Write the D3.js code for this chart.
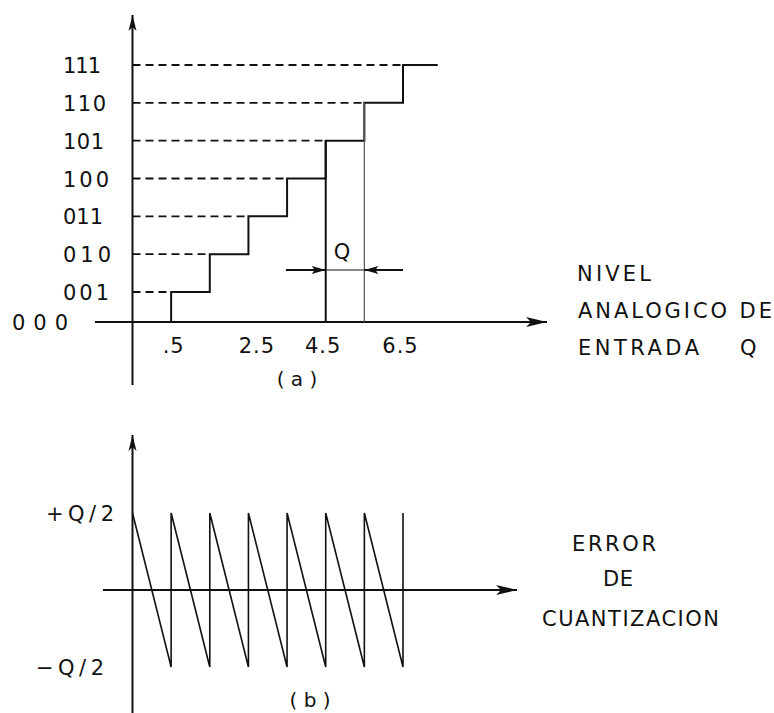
<!DOCTYPE html>
<html>
<head>
<meta charset="utf-8">
<script src="https://cdn.jsdelivr.net/npm/d3@7"></script>
<style>
  html, body { margin: 0; padding: 0; background: #fff; }
  svg { display: block; }
  text { font-family: "DejaVu Sans", sans-serif; fill: #111; }
</style>
</head>
<body>
<script>
// ---------------- data ----------------
const codes = ["000", "001", "010", "011", "100", "101", "110", "111"];
const levels = [0, 1, 2, 3, 4, 5, 6, 7];
// analog input values where the output code steps up to the next level
const thresholds = [0.5, 1.5, 2.5, 3.5, 4.5, 5.5, 6.5];
const inputStart = -0.5;
const inputEnd = 7.4;
const xTickValues = [0.5, 2.5, 4.5, 6.5];
const xTickLabels = [".5", "2.5", "4.5", "6.5"];
// quantization error breakpoints (in units of Q)
const errX = [-0.5, 0.5, 0.5, 1.5, 1.5, 2.5, 2.5, 3.5, 3.5, 4.5, 4.5, 5.5, 5.5, 6.5, 6.5];
const errY = [0.5, -0.5, 0.5, -0.5, 0.5, -0.5, 0.5, -0.5, 0.5, -0.5, 0.5, -0.5, 0.5, -0.5, 0.5];
const errTickValues = [0.5, -0.5];
const errTickLabels = ["+Q/2", "\u2212Q/2"];
const qStart = 4.5, qEnd = 5.5;

// ---------------- setup ----------------
const W = 774, H = 713;
const FS = 21;
const svg = d3.select("body").append("svg").attr("width", W).attr("height", H);

const x = d3.scaleLinear().domain([-0.5, 6.5]).range([132.5, 403]);
const yTop = d3.scaleLinear().domain([0, 1, 7]).range([322, 292, 65]);
const yBot = d3.scaleLinear().domain([-0.5, 0.5]).range([667, 513]);

const ink = "#111";

// arrow markers
const defs = svg.append("defs");
function marker(id, len, half, notch) {
  defs.append("marker")
    .attr("id", id)
    .attr("markerUnits", "userSpaceOnUse")
    .attr("viewBox", `${-len - 1} ${-half - 1} ${len + 2} ${2 * half + 2}`)
    .attr("refX", 0).attr("refY", 0)
    .attr("markerWidth", len + 2).attr("markerHeight", 2 * half + 2)
    .attr("orient", "auto")
    .append("path")
    .attr("d", `M0,0 L${-len},${-half} L${-len + notch},0 L${-len},${half} Z`)
    .attr("fill", ink);
}
marker("arrY", 16, 4, 4);
marker("arrX", 21, 5, 5);
marker("arrQ", 14, 4, 3);

// ================= TOP CHART (a) =================
const gTop = svg.append("g");

// dashed guide lines
gTop.selectAll("line.guide")
  .data(levels.slice(1))
  .join("line")
  .attr("class", "guide")
  .attr("x1", x(inputStart))
  .attr("x2", d => x(thresholds[d - 1]))
  .attr("y1", d => yTop(d))
  .attr("y2", d => yTop(d))
  .attr("stroke", ink)
  .attr("stroke-width", 1.8)
  .attr("stroke-dasharray", "8,5");

// x axis
gTop.append("line")
  .attr("x1", 95).attr("x2", 547)
  .attr("y1", yTop(0)).attr("y2", yTop(0))
  .attr("stroke", ink).attr("stroke-width", 2)
  .attr("marker-end", "url(#arrX)");

// y axis
gTop.append("line")
  .attr("x1", x(inputStart)).attr("x2", x(inputStart))
  .attr("y1", 385).attr("y2", 15)
  .attr("stroke", ink).attr("stroke-width", 2)
  .attr("marker-end", "url(#arrY)");

// staircase
const stairX = [inputStart, ...thresholds, inputEnd];
const stairY = [0, ...levels.slice(1), levels[levels.length - 1]];
const stairLine = d3.line()
  .x(d => x(d[0])).y(d => yTop(d[1]))
  .curve(d3.curveStepAfter);
gTop.append("path")
  .attr("d", stairLine(d3.zip(stairX, stairY)))
  .attr("fill", "none").attr("stroke", ink).attr("stroke-width", 2);

// Q extents down to axis
gTop.append("line")
  .attr("x1", x(qStart)).attr("x2", x(qStart))
  .attr("y1", yTop(thresholds.indexOf(qStart) + 1)).attr("y2", yTop(0))
  .attr("stroke", ink).attr("stroke-width", 2);
gTop.append("line")
  .attr("x1", x(qEnd)).attr("x2", x(qEnd))
  .attr("y1", yTop(thresholds.indexOf(qEnd) + 1)).attr("y2", yTop(0))
  .attr("stroke", "#555").attr("stroke-width", 1.2);

// Q dimension arrows
const qy = 270;
gTop.append("line")
  .attr("x1", x(qStart - 1.03)).attr("x2", x(qStart))
  .attr("y1", qy).attr("y2", qy)
  .attr("stroke", ink).attr("stroke-width", 2)
  .attr("marker-end", "url(#arrQ)");
gTop.append("line")
  .attr("x1", x(qEnd + 1)).attr("x2", x(qEnd))
  .attr("y1", qy).attr("y2", qy)
  .attr("stroke", ink).attr("stroke-width", 2)
  .attr("marker-end", "url(#arrQ)");
gTop.append("line")
  .attr("x1", x(qStart)).attr("x2", x(qEnd))
  .attr("y1", qy).attr("y2", qy)
  .attr("stroke", ink).attr("stroke-width", 1);
gTop.append("text")
  .attr("x", x((qStart + qEnd) / 2) - 3).attr("y", 251).attr("dy", "0.36em")
  .attr("text-anchor", "middle").attr("font-size", FS)
  .text("Q");

// x tick labels
const gx = gTop.append("g")
  .attr("transform", `translate(0,${yTop(0)})`)
  .call(d3.axisBottom(x).tickValues(xTickValues)
    .tickFormat((d, i) => xTickLabels[i]).tickSize(0).tickPadding(0));
gx.select(".domain").remove();
gx.attr("font-family", null).attr("font-size", null);
gx.selectAll("text")
  .attr("y", 23).attr("dy", "0.36em")
  .attr("font-size", FS).attr("fill", ink)
  .attr("letter-spacing", 1)
  .attr("dx", (d, i) => i === 1 ? 8 : (i === 0 ? 2 : -3));

// y tick labels (codes)
const codeWidths = [53, 43, 45, 37, 43, 38, 40, 35];
const gy = gTop.append("g")
  .call(d3.axisLeft(yTop).tickValues(levels)
    .tickFormat(d => codes[d]).tickSize(0).tickPadding(0));
gy.select(".domain").remove();
gy.attr("font-family", null).attr("font-size", null);
gy.selectAll("text")
  .attr("text-anchor", "start")
  .attr("x", d => d === 0 ? 12 : 63)
  .attr("dy", "0.36em")
  .attr("font-size", FS).attr("fill", ink)
  .attr("textLength", d => codeWidths[d] + 3)
  .attr("lengthAdjust", "spacing");

gTop.append("text")
  .attr("x", 297).attr("y", 379).attr("dy", "0.36em")
  .attr("text-anchor", "middle").attr("font-size", 20)
  .style("white-space", "pre")
  .text("( a )");

// right labels
function label(txt, xx, yy, len) {
  svg.append("text")
    .attr("x", xx).attr("y", yy).attr("dy", "0.36em")
    .attr("font-size", FS)
    .attr("textLength", len).attr("lengthAdjust", "spacing")
    .text(txt);
}
label("NIVEL", 577, 273, 74);
label("ANALOGICO DE", 578, 310, 194);
const ent = svg.append("text")
  .attr("y", 347).attr("dy", "0.36em").attr("font-size", FS);
ent.append("tspan").attr("x", 578).attr("textLength", 121).attr("lengthAdjust", "spacing").text("ENTRADA");
ent.append("tspan").attr("x", 740).text("Q");

// ================= BOTTOM CHART (b) =================
const gBot = svg.append("g");

gBot.append("line")
  .attr("x1", 103).attr("x2", 517)
  .attr("y1", yBot(0)).attr("y2", yBot(0))
  .attr("stroke", ink).attr("stroke-width", 2)
  .attr("marker-end", "url(#arrX)");

gBot.append("line")
  .attr("x1", x(inputStart)).attr("x2", x(inputStart))
  .attr("y1", H).attr("y2", 435)
  .attr("stroke", ink).attr("stroke-width", 2)
  .attr("marker-end", "url(#arrY)");

const errLine = d3.line().x(d => x(d[0])).y(d => yBot(d[1]));
gBot.append("path")
  .attr("d", errLine(d3.zip(errX, errY)))
  .attr("fill", "none").attr("stroke", ink).attr("stroke-width", 1.6)
  .attr("stroke-linejoin", "miter");

const gey = gBot.append("g")
  .call(d3.axisLeft(yBot).tickValues(errTickValues)
    .tickFormat((d, i) => errTickLabels[i]).tickSize(0).tickPadding(0));
gey.select(".domain").remove();
gey.attr("font-family", null).attr("font-size", null);
gey.selectAll("text")
  .attr("text-anchor", "start")
  .attr("x", (d, i) => i === 0 ? 46 : 36)
  .attr("dy", "0.36em")
  .attr("font-size", FS).attr("fill", ink)
  .attr("textLength", 68).attr("lengthAdjust", "spacing");

gBot.append("text")
  .attr("x", 310).attr("y", 700).attr("dy", "0.36em")
  .attr("text-anchor", "middle").attr("font-size", 20)
  .style("white-space", "pre")
  .text("( b )");

label("ERROR", 572, 543, 84);
label("DE", 603, 578, 30);
label("CUANTIZACION", 542, 618, 177);
</script>
</body>
</html>
